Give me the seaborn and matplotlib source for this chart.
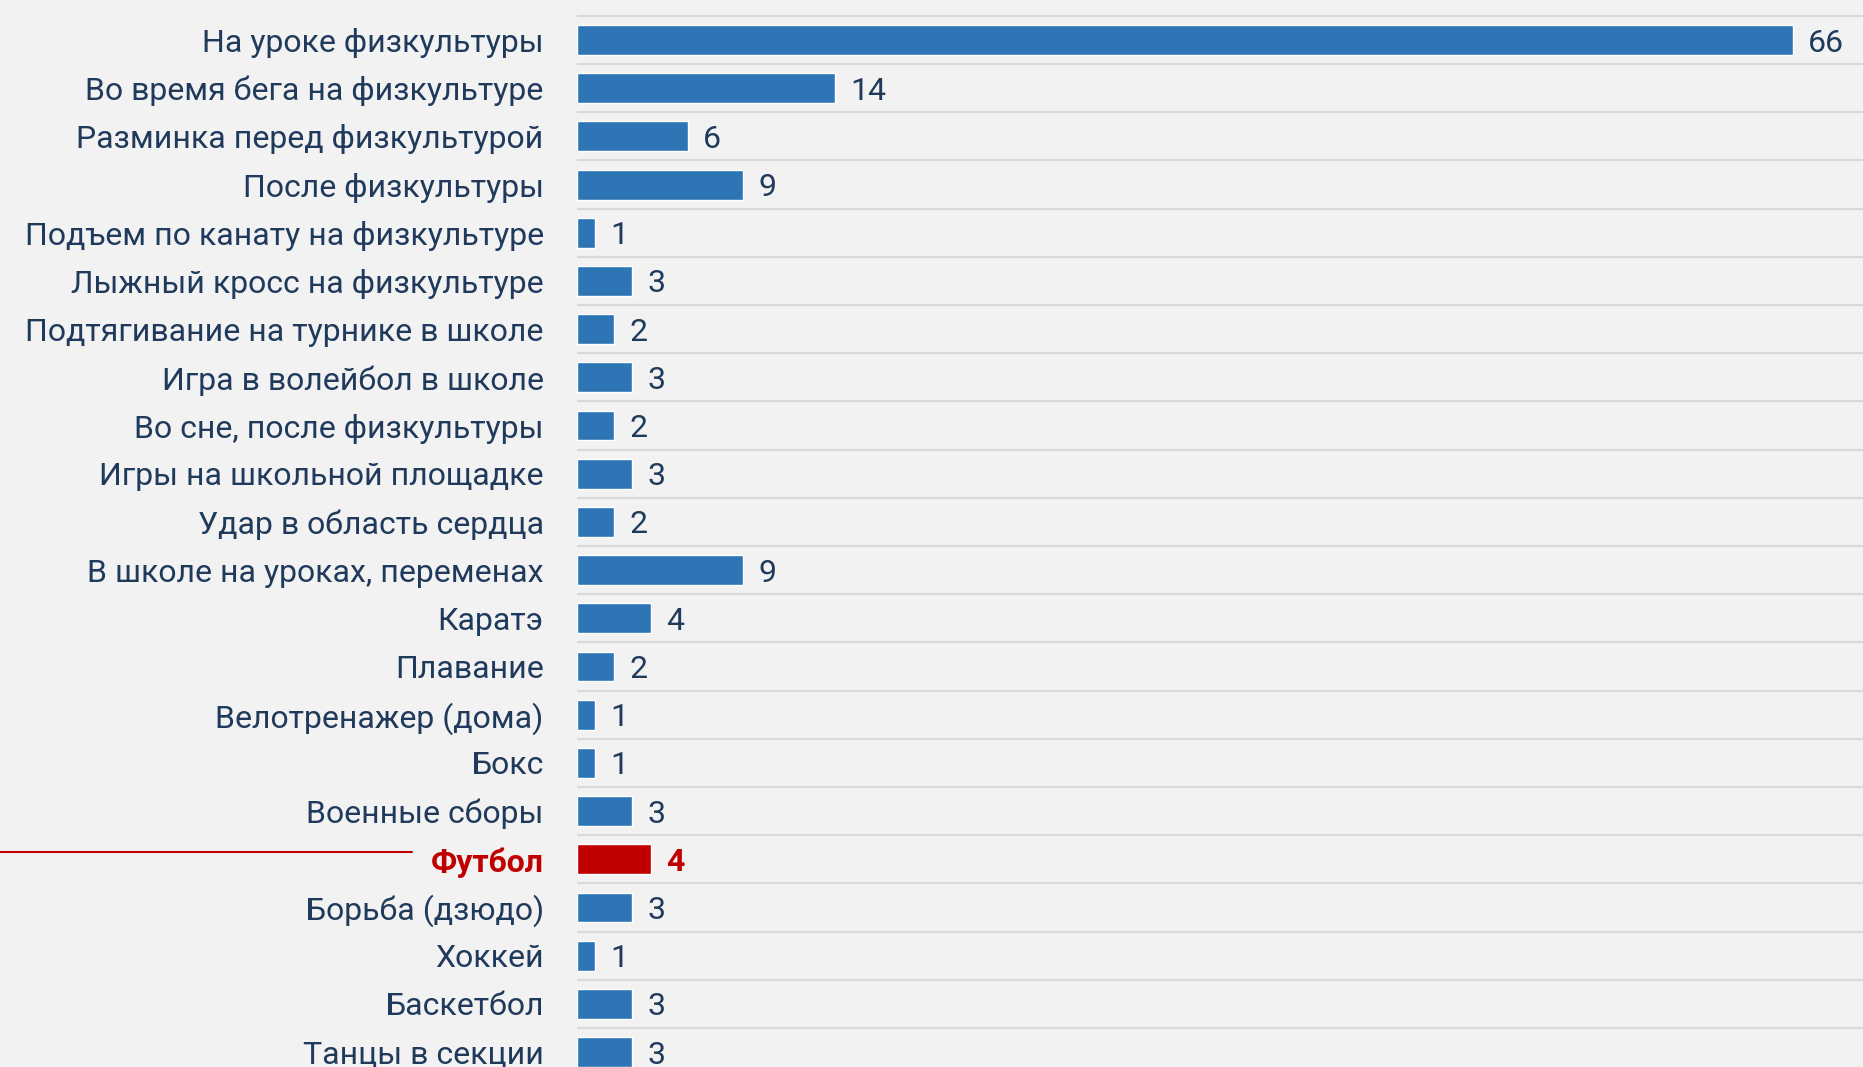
import matplotlib
matplotlib.use("Agg")
import matplotlib.pyplot as plt
import seaborn as sns
import pandas as pd

labels = [
    "На уроке физкультуры",
    "Во время бега на физкультуре",
    "Разминка перед физкультурой",
    "После физкультуры",
    "Подъем по канату на физкультуре",
    "Лыжный кросс на физкультуре",
    "Подтягивание на турнике в школе",
    "Игра в волейбол в школе",
    "Во сне, после физкультуры",
    "Игры на школьной площадке",
    "Удар в область сердца",
    "В школе на уроках, переменах",
    "Каратэ",
    "Плавание",
    "Велотренажер (дома)",
    "Бокс",
    "Военные сборы",
    "Футбол",
    "Борьба (дзюдо)",
    "Хоккей",
    "Баскетбол",
    "Танцы в секции",
]
values = [66, 14, 6, 9, 1, 3, 2, 3, 2, 3, 2, 9, 4, 2, 1, 1, 3, 4, 3, 1, 3, 3]
highlight = "Футбол"

BLUE = "#2e75b6"
RED = "#c00000"
TEXT = "#203a5c"
BG = "#f2f2f2"
GRID = "#d9d9d9"

sns.set_style("white")
plt.rcParams["font.family"] = ["Roboto", "DejaVu Sans"]

df = pd.DataFrame({"label": labels, "value": values})
palette = {l: (RED if l == highlight else BLUE) for l in labels}

fig = plt.figure(figsize=(18.63, 10.67), dpi=100, facecolor=BG)
ax = fig.add_axes([0.3097, 0.0, 0.6903, 1.0])
ax.set_facecolor(BG)

sns.barplot(data=df, x="value", y="label", hue="label", palette=palette,
            legend=False, width=0.62, saturation=1, ax=ax, zorder=3)

n = len(labels)
ax.set_xlim(0, 69.8)
ax.set_ylim(n - 1 + 0.31, -0.83)

# separators between rows
for i in range(n):
    ax.axhline(i - 0.5, color=GRID, lw=1.6, zorder=1)

for s in ax.spines.values():
    s.set_visible(False)
ax.set_xticks([])
ax.set_xlabel("")
ax.set_ylabel("")
ax.tick_params(axis="y", length=0, pad=24, labelsize=23, labelcolor=TEXT)

for tl in ax.get_yticklabels():
    if tl.get_text() == highlight:
        tl.set_color(RED)
        tl.set_fontweight("bold")

for i, (l, v) in enumerate(zip(labels, values)):
    hl = l == highlight
    ax.annotate(str(v), (v, i), xytext=(11, 0), textcoords="offset points",
                va="center_baseline", ha="left", fontsize=23,
                color=RED if hl else TEXT,
                fontweight="bold" if hl else "normal")

# red pointer line on the left for the highlighted row
fig.add_artist(plt.Line2D([0, 412 / 1863], [1 - 852 / 1067, 1 - 852 / 1067],
                          color=RED, lw=1.5, transform=fig.transFigure))

fig.savefig("out.png", dpi=100, facecolor=BG)
